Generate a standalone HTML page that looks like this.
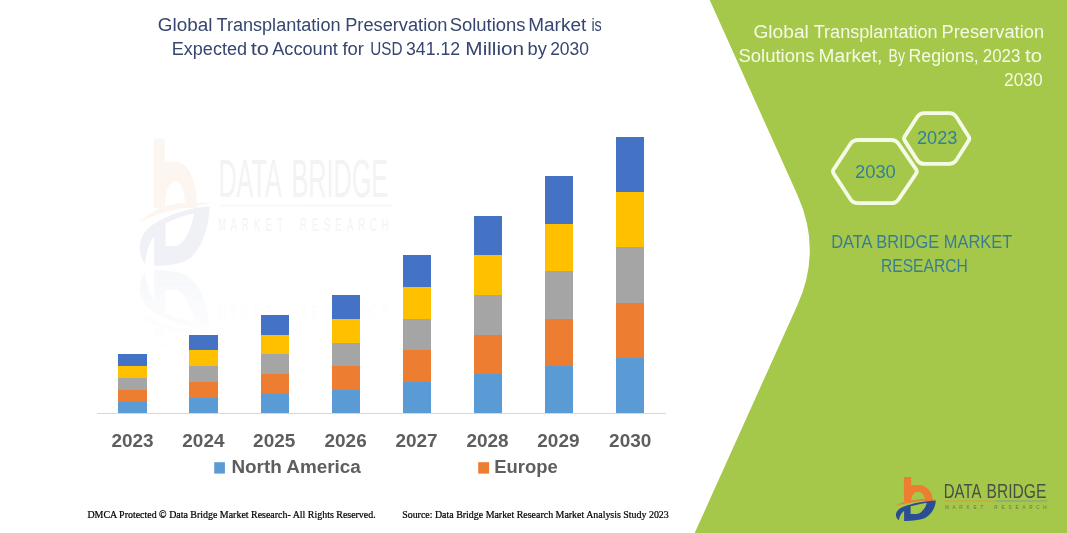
<!DOCTYPE html>
<html><head><meta charset="utf-8"><style>
html,body{margin:0;padding:0;background:#fff;}
body{width:1067px;height:533px;overflow:hidden;position:relative;}
svg{position:absolute;left:0;top:0;}
text{font-family:"Liberation Sans",sans-serif;}
</style></head><body>
<svg width="1067" height="533" viewBox="0 0 1067 533">
<rect x="0" y="0" width="1067" height="533" fill="#ffffff"/>
<!-- watermark -->
<defs>
  <linearGradient id="rg" x1="0" y1="268" x2="0" y2="352" gradientUnits="userSpaceOnUse">
    <stop offset="0" stop-color="#fff" stop-opacity="0.6"/>
    <stop offset="1" stop-color="#fff" stop-opacity="0"/>
  </linearGradient>
  <mask id="rm" maskUnits="userSpaceOnUse" x="0" y="0" width="1067" height="533">
    <rect x="0" y="268" width="1067" height="140" fill="url(#rg)"/>
  </mask>
  <g id="wm">
    <g opacity="0.06">
      <text font-size="53" fill="#404040" x="218.40" y="197.4" textLength="63.28" lengthAdjust="spacingAndGlyphs">DATA</text><text font-size="53" fill="#404040" x="291.40" y="197.4" textLength="96.72" lengthAdjust="spacingAndGlyphs">BRIDGE</text>
      <text x="0" y="0" transform="translate(222.00 231.2) scale(0.5 1)" text-anchor="middle" font-size="19" fill="#404040" >M</text><text x="0" y="0" transform="translate(233.64 231.2) scale(0.5 1)" text-anchor="middle" font-size="19" fill="#404040" >A</text><text x="0" y="0" transform="translate(245.29 231.2) scale(0.5 1)" text-anchor="middle" font-size="19" fill="#404040" >R</text><text x="0" y="0" transform="translate(256.93 231.2) scale(0.5 1)" text-anchor="middle" font-size="19" fill="#404040" >K</text><text x="0" y="0" transform="translate(268.57 231.2) scale(0.5 1)" text-anchor="middle" font-size="19" fill="#404040" >E</text><text x="0" y="0" transform="translate(280.21 231.2) scale(0.5 1)" text-anchor="middle" font-size="19" fill="#404040" >T</text><text x="0" y="0" transform="translate(303.50 231.2) scale(0.5 1)" text-anchor="middle" font-size="19" fill="#404040" >R</text><text x="0" y="0" transform="translate(315.14 231.2) scale(0.5 1)" text-anchor="middle" font-size="19" fill="#404040" >E</text><text x="0" y="0" transform="translate(326.79 231.2) scale(0.5 1)" text-anchor="middle" font-size="19" fill="#404040" >S</text><text x="0" y="0" transform="translate(338.43 231.2) scale(0.5 1)" text-anchor="middle" font-size="19" fill="#404040" >E</text><text x="0" y="0" transform="translate(350.07 231.2) scale(0.5 1)" text-anchor="middle" font-size="19" fill="#404040" >A</text><text x="0" y="0" transform="translate(361.71 231.2) scale(0.5 1)" text-anchor="middle" font-size="19" fill="#404040" >R</text><text x="0" y="0" transform="translate(373.36 231.2) scale(0.5 1)" text-anchor="middle" font-size="19" fill="#404040" >C</text><text x="0" y="0" transform="translate(385.00 231.2) scale(0.5 1)" text-anchor="middle" font-size="19" fill="#404040" >H</text>
      <rect x="219.8" y="204.8" width="86" height="1.5" fill="#ED7D31"/>
      <rect x="305.8" y="204.8" width="86.7" height="1.5" fill="#4472C4"/>
    </g>
    <g opacity="0.07">
  <g transform="translate(142 138.4) scale(1.5 2.9)"><path d="M7.9 0 H15.2 V8.3 C17 8.1 19.5 8 22.4 8 C31 8 36.8 15 36.8 24 H29 C29 18.5 26 14.7 22.1 14.7 C18.5 14.7 15.2 18 15.2 24 H7.9 Z" fill="#ED7D31"/></g>
  <g transform="translate(140 138.4) scale(1.75 2.9)">
  <path d="M-0.1 28.9 C8 23.3 22 21.3 40.5 22.4 C24 23.9 10 25.6 -0.1 28.9 Z" fill="#ED7D31"/>
  <path d="M2.8 43.3 C-2 39 -1 33 7.3 29.8 C16 26 29 24 39.8 23.4 C39.5 30 36 37.5 28.5 41.3 C23 43.5 15 44 8.1 43.9 L8.1 34 C6 35 4 38 2.8 43.3 Z M14.6 29.3 L14.6 37.1 L20.8 37.1 C25 36.5 29 32 30.9 25.9 C25 26.5 19 28 14.6 29.3 Z" fill="#2B4D93" fill-rule="evenodd"/>
  </g>
</g>
  </g>
</defs>
<use href="#wm"/>
<g mask="url(#rm)"><use href="#wm" transform="translate(0 536) scale(1 -1)"/></g>
<!-- axis -->
<rect x="97" y="413" width="569" height="1" fill="#D9D9D9"/>
<rect x="118" y="354" width="29" height="12" fill="#4472C4"/><rect x="118" y="366" width="29" height="12" fill="#FFC000"/><rect x="118" y="378" width="29" height="12" fill="#A5A5A5"/><rect x="118" y="390" width="29" height="12" fill="#ED7D31"/><rect x="118" y="402" width="29" height="11" fill="#5B9BD5"/><rect x="189" y="335" width="29" height="15" fill="#4472C4"/><rect x="189" y="350" width="29" height="16" fill="#FFC000"/><rect x="189" y="366" width="29" height="16" fill="#A5A5A5"/><rect x="189" y="382" width="29" height="16" fill="#ED7D31"/><rect x="189" y="398" width="29" height="15" fill="#5B9BD5"/><rect x="261" y="315" width="28" height="20" fill="#4472C4"/><rect x="261" y="335" width="28" height="19" fill="#FFC000"/><rect x="261" y="354" width="28" height="20" fill="#A5A5A5"/><rect x="261" y="374" width="28" height="20" fill="#ED7D31"/><rect x="261" y="394" width="28" height="19" fill="#5B9BD5"/><rect x="332" y="295" width="28" height="24" fill="#4472C4"/><rect x="332" y="319" width="28" height="24" fill="#FFC000"/><rect x="332" y="343" width="28" height="23" fill="#A5A5A5"/><rect x="332" y="366" width="28" height="24" fill="#ED7D31"/><rect x="332" y="390" width="28" height="23" fill="#5B9BD5"/><rect x="403" y="255" width="28" height="32" fill="#4472C4"/><rect x="403" y="287" width="28" height="32" fill="#FFC000"/><rect x="403" y="319" width="28" height="31" fill="#A5A5A5"/><rect x="403" y="350" width="28" height="32" fill="#ED7D31"/><rect x="403" y="382" width="28" height="31" fill="#5B9BD5"/><rect x="474" y="216" width="28" height="39" fill="#4472C4"/><rect x="474" y="255" width="28" height="40" fill="#FFC000"/><rect x="474" y="295" width="28" height="40" fill="#A5A5A5"/><rect x="474" y="335" width="28" height="39" fill="#ED7D31"/><rect x="474" y="374" width="28" height="39" fill="#5B9BD5"/><rect x="545" y="176" width="28" height="48" fill="#4472C4"/><rect x="545" y="224" width="28" height="47" fill="#FFC000"/><rect x="545" y="271" width="28" height="48" fill="#A5A5A5"/><rect x="545" y="319" width="28" height="47" fill="#ED7D31"/><rect x="545" y="366" width="28" height="47" fill="#5B9BD5"/><rect x="616" y="137" width="28" height="55" fill="#4472C4"/><rect x="616" y="192" width="28" height="55" fill="#FFC000"/><rect x="616" y="247" width="28" height="56" fill="#A5A5A5"/><rect x="616" y="303" width="28" height="55" fill="#ED7D31"/><rect x="616" y="358" width="28" height="55" fill="#5B9BD5"/>
<g font-size="18" font-weight="700" fill="#5E5E5E"><text x="111.4" y="447.2" textLength="42.2" lengthAdjust="spacingAndGlyphs">2023</text><text x="182.3" y="447.2" textLength="42.2" lengthAdjust="spacingAndGlyphs">2024</text><text x="253.1" y="447.2" textLength="42.2" lengthAdjust="spacingAndGlyphs">2025</text><text x="324.5" y="447.2" textLength="42.2" lengthAdjust="spacingAndGlyphs">2026</text><text x="395.4" y="447.2" textLength="42.2" lengthAdjust="spacingAndGlyphs">2027</text><text x="466.4" y="447.2" textLength="42.2" lengthAdjust="spacingAndGlyphs">2028</text><text x="537.3" y="447.2" textLength="42.2" lengthAdjust="spacingAndGlyphs">2029</text><text x="609.1" y="447.2" textLength="42.2" lengthAdjust="spacingAndGlyphs">2030</text></g>
<!-- legend -->
<rect x="214.2" y="462.2" width="10.7" height="11.4" fill="#5B9BD5"/>
<text x="231.4" y="472.7" font-size="18" font-weight="700" fill="#5E5E5E" textLength="129.5" lengthAdjust="spacingAndGlyphs">North America</text>
<rect x="478.2" y="462.2" width="10.9" height="11.4" fill="#ED7D31"/>
<text x="494.2" y="472.7" font-size="18" font-weight="700" fill="#5E5E5E" textLength="63.5" lengthAdjust="spacingAndGlyphs">Europe</text>
<!-- title -->
<g font-size="18" fill="#36466F">
<text x="157.85" y="30.9" textLength="54.63" lengthAdjust="spacingAndGlyphs">Global</text><text x="216.50" y="30.9" textLength="124.02" lengthAdjust="spacingAndGlyphs">Transplantation</text><text x="345.19" y="30.9" textLength="102.29" lengthAdjust="spacingAndGlyphs">Preservation</text><text x="449.68" y="30.9" textLength="75.89" lengthAdjust="spacingAndGlyphs">Solutions</text><text x="528.25" y="30.9" textLength="57.97" lengthAdjust="spacingAndGlyphs">Market</text><text x="591.40" y="30.9" textLength="10.40" lengthAdjust="spacingAndGlyphs">is</text><text x="171.80" y="54.6" textLength="75.17" lengthAdjust="spacingAndGlyphs">Expected</text><text x="250.80" y="54.6" textLength="18.22" lengthAdjust="spacingAndGlyphs">to</text><text x="272.20" y="54.6" textLength="65.65" lengthAdjust="spacingAndGlyphs">Account</text><text x="342.50" y="54.6" textLength="21.52" lengthAdjust="spacingAndGlyphs">for</text><text x="370.25" y="54.6" textLength="32.26" lengthAdjust="spacingAndGlyphs">USD</text><text x="406.02" y="54.6" textLength="54.04" lengthAdjust="spacingAndGlyphs">341.12</text><text x="465.35" y="54.6" textLength="58.82" lengthAdjust="spacingAndGlyphs">Million</text><text x="527.58" y="54.6" textLength="19.33" lengthAdjust="spacingAndGlyphs">by</text><text x="550.13" y="54.6" textLength="38.92" lengthAdjust="spacingAndGlyphs">2030</text>
</g>
<!-- footer -->
<g font-size="9.8" fill="#000000" stroke="#000000" stroke-width="0.22">
<text x="87.4" y="518.2" textLength="288.3" lengthAdjust="spacingAndGlyphs" style="font-family:'Liberation Serif',serif">DMCA Protected © Data Bridge Market Research-  All Rights Reserved.</text>
<text x="402.2" y="518.2" textLength="266.6" lengthAdjust="spacingAndGlyphs" style="font-family:'Liberation Serif',serif">Source: Data Bridge Market Research  Market Analysis Study 2023</text>
</g>
<!-- green panel -->
<path d="M709.7 0 L797.45 195 Q822.2 250 797.45 305 L694.7 533 L1067 533 L1067 0 Z" fill="#A5C84A"/>
<g font-size="18" fill="#F5FAE6">
<text x="753.44" y="38.0" textLength="55.36" lengthAdjust="spacingAndGlyphs">Global</text><text x="813.70" y="38.0" textLength="123.92" lengthAdjust="spacingAndGlyphs">Transplantation</text><text x="941.48" y="38.0" textLength="102.59" lengthAdjust="spacingAndGlyphs">Preservation</text><text x="738.47" y="62.0" textLength="76.09" lengthAdjust="spacingAndGlyphs">Solutions</text><text x="818.64" y="62.0" textLength="63.64" lengthAdjust="spacingAndGlyphs">Market,</text><text x="888.62" y="62.0" textLength="16.39" lengthAdjust="spacingAndGlyphs">By</text><text x="908.51" y="62.0" textLength="70.22" lengthAdjust="spacingAndGlyphs">Regions,</text><text x="982.76" y="62.0" textLength="37.69" lengthAdjust="spacingAndGlyphs">2023</text><text x="1025.00" y="62.0" textLength="17.02" lengthAdjust="spacingAndGlyphs">to</text><text x="1004.03" y="85.8" textLength="38.71" lengthAdjust="spacingAndGlyphs">2030</text>
</g>
<!-- hexagons -->
<g fill="none" stroke="#F5FAE6" stroke-width="3.8" stroke-linejoin="round">
<path d="M833.67 173.59 Q832.3 171.5 833.67 169.41 L850.25 144.18 Q853 140 858.00 140.00 L891.00 140.00 Q896 140 898.82 144.13 L916.09 169.44 Q917.5 171.5 916.10 173.57 L898.81 199.06 Q896 203.2 891.00 203.20 L858.00 203.20 Q853 203.2 850.27 199.01 Z"/>
<path d="M904.74 140.61 Q903.4 138.5 904.75 136.39 L917.17 116.99 Q919.6 113.2 924.10 113.20 L949.50 113.20 Q954 113.2 956.41 117.00 L968.66 136.39 Q970 138.5 968.67 140.62 L956.40 160.09 Q954 163.9 949.50 163.90 L924.10 163.90 Q919.6 163.9 917.18 160.11 Z"/>
</g>
<g font-size="18" fill="#32809A">
<text x="855.0" y="177.7" textLength="40.8" lengthAdjust="spacingAndGlyphs">2030</text>
<text x="917.0" y="143.7" textLength="40.4" lengthAdjust="spacingAndGlyphs">2023</text>
</g>
<g font-size="17.6" fill="#387C98">
<text x="831.2" y="247.5" textLength="181" lengthAdjust="spacingAndGlyphs">DATA BRIDGE MARKET</text>
<text x="880.9" y="271.5" textLength="87" lengthAdjust="spacingAndGlyphs">RESEARCH</text>
</g>
<!-- logo bottom right -->
<g opacity="1">
  <g transform="translate(896 477) scale(1 1)"><path d="M7.9 0 H15.2 V8.3 C17 8.1 19.5 8 22.4 8 C31 8 36.8 15 36.8 24 H29 C29 18.5 26 14.7 22.1 14.7 C18.5 14.7 15.2 18 15.2 24 H7.9 Z" fill="#ED7D31"/></g>
  <g transform="translate(896 477) scale(1 1)">
  <path d="M-0.1 28.9 C8 23.3 22 21.3 40.5 22.4 C24 23.9 10 25.6 -0.1 28.9 Z" fill="#ED7D31"/>
  <path d="M2.8 43.3 C-2 39 -1 33 7.3 29.8 C16 26 29 24 39.8 23.4 C39.5 30 36 37.5 28.5 41.3 C23 43.5 15 44 8.1 43.9 L8.1 34 C6 35 4 38 2.8 43.3 Z M14.6 29.3 L14.6 37.1 L20.8 37.1 C25 36.5 29 32 30.9 25.9 C25 26.5 19 28 14.6 29.3 Z" fill="#2B4D93" fill-rule="evenodd"/>
  </g>
</g>
<g>
  <text x="943.8" y="497.9" font-size="19.5" fill="#4A5046" textLength="37.6" lengthAdjust="spacingAndGlyphs">DATA</text>
  <text x="986.6" y="497.9" font-size="19.5" fill="#4A5046" textLength="59.8" lengthAdjust="spacingAndGlyphs">BRIDGE</text>
  <rect x="944.3" y="500.5" width="50.6" height="0.9" fill="#D99A45"/>
  <rect x="995.7" y="500.5" width="51.8" height="0.9" fill="#7A9A95"/>
  <text x="0" y="0" transform="translate(947.00 509.3) scale(0.8 1)" text-anchor="middle" font-size="5.8" fill="#6A7258" >M</text><text x="0" y="0" transform="translate(954.00 509.3) scale(0.8 1)" text-anchor="middle" font-size="5.8" fill="#6A7258" >A</text><text x="0" y="0" transform="translate(961.00 509.3) scale(0.8 1)" text-anchor="middle" font-size="5.8" fill="#6A7258" >R</text><text x="0" y="0" transform="translate(968.00 509.3) scale(0.8 1)" text-anchor="middle" font-size="5.8" fill="#6A7258" >K</text><text x="0" y="0" transform="translate(975.00 509.3) scale(0.8 1)" text-anchor="middle" font-size="5.8" fill="#6A7258" >E</text><text x="0" y="0" transform="translate(982.00 509.3) scale(0.8 1)" text-anchor="middle" font-size="5.8" fill="#6A7258" >T</text><text x="0" y="0" transform="translate(996.00 509.3) scale(0.8 1)" text-anchor="middle" font-size="5.8" fill="#6A7258" >R</text><text x="0" y="0" transform="translate(1003.00 509.3) scale(0.8 1)" text-anchor="middle" font-size="5.8" fill="#6A7258" >E</text><text x="0" y="0" transform="translate(1010.00 509.3) scale(0.8 1)" text-anchor="middle" font-size="5.8" fill="#6A7258" >S</text><text x="0" y="0" transform="translate(1017.00 509.3) scale(0.8 1)" text-anchor="middle" font-size="5.8" fill="#6A7258" >E</text><text x="0" y="0" transform="translate(1024.00 509.3) scale(0.8 1)" text-anchor="middle" font-size="5.8" fill="#6A7258" >A</text><text x="0" y="0" transform="translate(1031.00 509.3) scale(0.8 1)" text-anchor="middle" font-size="5.8" fill="#6A7258" >R</text><text x="0" y="0" transform="translate(1038.00 509.3) scale(0.8 1)" text-anchor="middle" font-size="5.8" fill="#6A7258" >C</text><text x="0" y="0" transform="translate(1045.00 509.3) scale(0.8 1)" text-anchor="middle" font-size="5.8" fill="#6A7258" >H</text>
</g>
</svg>
</body></html>
